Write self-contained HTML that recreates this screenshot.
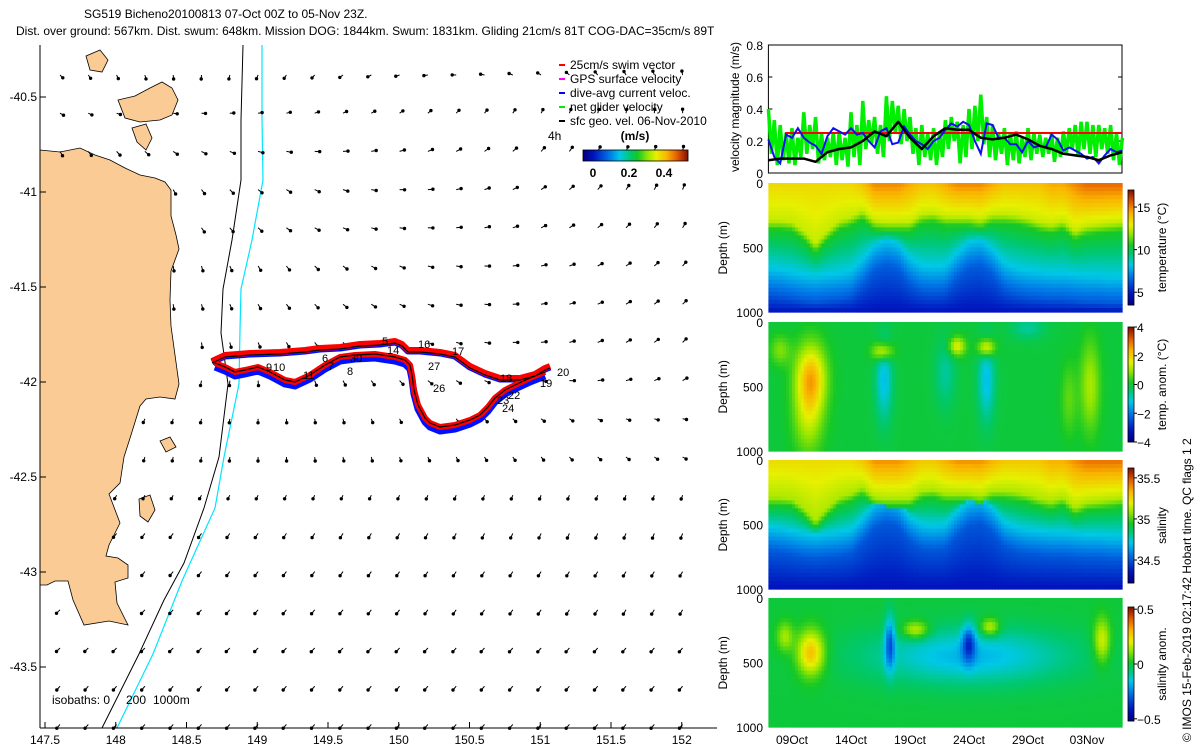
<!DOCTYPE html>
<html><head><meta charset="utf-8">
<style>
html,body{margin:0;padding:0;background:#fff;}
svg{display:block;font-family:"Liberation Sans",sans-serif;}
text{fill:#000;}
</style></head>
<body>
<svg id="root" width="1200" height="750" viewBox="0 0 1200 750" xmlns="http://www.w3.org/2000/svg">
<g font-size="12">
<text x="84" y="18">SG519 Bicheno20100813 07-Oct 00Z to 05-Nov 23Z.</text>
<text x="16" y="35">Dist. over ground: 567km. Dist. swum: 648km. Mission DOG: 1844km. Swum: 1831km. Gliding 21cm/s 81T COG-DAC=35cm/s 89T</text>
</g>
<g id="map"></g>
<g id="vel"></g>
<g id="heat"></g>
<text transform="translate(1191,742) rotate(-90)" font-size="12">© IMOS 15-Feb-2019 02:17:42 Hobart time. QC flags 1  2</text>
</svg>
<script>
// ---------------- DATA ----------------
const blackDaily = [0.08,0.09,0.09,0.09,0.07,0.13,0.15,0.16,0.20,0.26,0.23,0.32,0.22,0.15,0.23,0.28,0.27,0.27,0.22,0.21,0.22,0.24,0.21,0.17,0.15,0.12,0.11,0.10,0.08,0.11,0.13];
const blueHalfDay = [0.21,0.10,0.06,0.24,0.22,0.28,0.22,0.19,0.17,0.12,0.23,0.28,0.26,0.24,0.28,0.24,0.25,0.20,0.16,0.26,0.28,0.18,0.19,0.29,0.24,0.20,0.18,0.15,0.20,0.22,0.27,0.31,0.29,0.32,0.30,0.20,0.12,0.31,0.30,0.22,0.22,0.18,0.18,0.13,0.20,0.16,0.17,0.16,0.24,0.21,0.14,0.16,0.14,0.12,0.09,0.10,0.06,0.11,0.15,0.13,0.14];
const greenQuarterDay = [0.40,0.12,0.33,0.05,0.30,0.08,0.25,0.06,0.28,0.05,0.22,0.10,0.38,0.12,0.30,0.15,0.35,0.06,0.25,0.08,0.22,0.10,0.25,0.05,0.26,0.08,0.22,0.04,0.38,0.10,0.30,0.05,0.45,0.15,0.33,0.18,0.35,0.12,0.30,0.10,0.48,0.20,0.45,0.25,0.42,0.18,0.40,0.20,0.35,0.12,0.28,0.05,0.30,0.10,0.25,0.08,0.28,0.05,0.25,0.10,0.33,0.15,0.35,0.20,0.32,0.06,0.30,0.10,0.40,0.15,0.42,0.20,0.49,0.18,0.35,0.10,0.30,0.08,0.25,0.12,0.28,0.05,0.25,0.08,0.26,0.06,0.22,0.10,0.28,0.08,0.25,0.12,0.24,0.10,0.22,0.12,0.25,0.07,0.22,0.10,0.26,0.12,0.28,0.15,0.30,0.10,0.32,0.15,0.32,0.12,0.30,0.10,0.30,0.15,0.28,0.12,0.30,0.08,0.25,0.05,0.22];
const swimSpeed = 0.25;
const velTicks = [0,0.2,0.4,0.6,0.8];
const timeTickLabels = ["09Oct","14Oct","19Oct","24Oct","29Oct","03Nov"];
const timeTickDays = [2,7,12,17,22,27];
const mixedDepth = [290,290,300,370,470,370,290,260,210,290,300,300,300,240,230,260,260,260,280,240,240,250,270,300,320,290,370,330,320,310,300];
const coldDepth = [660,670,690,710,720,710,700,680,590,480,440,470,580,640,650,640,540,460,440,510,620,660,680,690,700,700,710,720,720,730,730];
const surfTemp = [13.5,13.5,13.5,13.5,13.5,13.5,13.5,13.5,14,15,15,15,14.5,14,14,14.5,15,15,15,14.5,14,14,14,14,14.5,14.5,15,15.5,15.5,15.5,15.5];
const tempAnomBlobs = [[3.6,430,0.9,180,2.3],[3.4,750,0.9,200,1.1],[1,220,0.6,80,0.8],[9.7,230,0.6,50,1.8],[16,190,0.5,50,1.6],[18.5,200,0.5,50,2.0],[9.8,450,0.5,220,-1.3],[18.5,450,0.5,220,-1.3],[15,400,0.6,180,-0.7],[22,50,1.0,60,-0.7],[27.3,500,0.6,250,1.1],[25.5,600,0.5,200,0.6]];
const salAnomBlobs = [[3.6,425,0.8,120,0.30],[1.4,300,0.5,80,0.14],[17,450,6,150,-0.18],[10.3,350,0.3,150,-0.25],[17,350,0.4,100,-0.25],[12.5,250,0.8,50,0.2],[18.8,230,0.6,50,0.2],[28.3,330,0.5,120,0.2]];
const lonTicks = [147.5,148,148.5,149,149.5,150,150.5,151,151.5,152];
const latTicks = [-40.5,-41,-41.5,-42,-42.5,-43,-43.5];
const rowBearW = [135,120,150,180,180,200,200,210,230,220,210,210,220,220,225,225,220,220];
const rowBearE = [350,0,10,20,30,40,45,45,60,100,120,200,200,210,210,220,220,220];
const rowLen = [4,4,5,5,5,5,5,5,5,4,4,4,5,5,5,5,5,5];
const trackLabels = [["16",418,348],["17",452,355],["27",428,370],["26",433,392],["18",500,382],["20",557,376],["22",508,399],["24",502,412],["23",497,404],["19",540,387],["11",303,379],["10",273,371],["9",266,371],["7",328,370],["8",347,375],["30",350,362],["6",322,362],["5",382,345],["14",387,354]];

// ---------------- HELPERS ----------------
const NS="http://www.w3.org/2000/svg";
function mk(tag, parent, attrs){const e=document.createElementNS(NS,tag);for(const k in attrs)e.setAttribute(k,attrs[k]);parent.appendChild(e);return e;}
function txt(parent,x,y,s,size,anchor){const t=mk('text',parent,{x:x,y:y,'font-size':size||12,'text-anchor':anchor||'start'});t.textContent=s;return t;}
const stops=[[0,[0,0,130]],[0.1,[0,20,190]],[0.25,[0,120,230]],[0.35,[0,200,230]],[0.45,[0,200,110]],[0.52,[20,200,40]],[0.62,[150,230,0]],[0.7,[230,240,0]],[0.8,[250,180,0]],[0.9,[230,90,0]],[1,[130,20,0]]];
function cmap(f){f=Math.max(0,Math.min(1,f));for(let i=1;i<stops.length;i++){if(f<=stops[i][0]){const a=stops[i-1],b=stops[i];const t=(f-a[0])/(b[0]-a[0]);return 'rgb('+a[1].map((v,k)=>Math.round(v+(b[1][k]-v)*t)).join(',')+')';}}return 'rgb(130,20,0)';}
function interpDaily(arr,d){const i=Math.min(arr.length-2,Math.floor(d));const t=d-i;return arr[i]*(1-t)+arr[i+1]*t;}
function pw(nodes,z){for(let i=1;i<nodes.length;i++){if(z<=nodes[i][0]){const a=nodes[i-1],b=nodes[i];const t=(z-a[0])/Math.max(1,(b[0]-a[0]));return a[1]+(b[1]-a[1])*t;}}return nodes[nodes.length-1][1];}

// ---------------- MAP ----------------
const map=document.getElementById('map');
const mx=lon=>45+(lon-147.5)*141.5;
const my=lat=>97+(-40.5-lat)*190;
const land=[
"M40,150 L60,152 L80,148 L95,155 L110,160 L125,168 L140,175 L155,178 L165,182 L171,190 L171,216 L176,235 L179,249 L171,271 L170,300 L171,326 L175,355 L179,384 L175,399 L160,397 L146,399 L140,406 L131,435 L124,457 L120,483 L109,494 L120,523 L109,545 L106,556 L118,558 L128,565 L128,578 L115,582 L117,603 L128,625 L109,621 L84,625 L73,600 L68,581 L55,581 L47,585 L40,585 Z",
"M118,100 L135,96 L150,88 L162,82 L172,88 L178,100 L172,115 L160,120 L140,122 L125,118 Z",
"M132,128 L146,124 L152,138 L146,150 L137,142 Z",
"M86,56 L100,50 L108,60 L102,72 L90,70 Z",
"M139,499 L150,495 L155,510 L148,522 L140,516 Z",
"M160,441 L170,437 L176,447 L166,452 Z"];
land.forEach((d,i)=>{const p=mk('path',map,{d:d,fill:'#fbcb96',stroke:'#000','stroke-width':0.8});

});
const iso1=mk('polyline',map,{points:"243,45 241,120 241,180 232,240 223,289 221,333 228,384 219,457 204,508 184,563 164,600 139,654 102,728",fill:'none',stroke:'#000','stroke-width':1});


const iso2=mk('polyline',map,{points:"262,45 262,120 263,180 252,240 241,289 240,330 239,384 224,457 215,508 182,581 153,654 117,728",fill:'none',stroke:'#00e5ff','stroke-width':1.2});


const landPaths=land.map(d=>new Path2D(d));
const cctx=document.createElement('canvas').getContext('2d');
const arrows=mk('g',map,{});


for(let r=0;r<rowBearW.length;r++){
  const y=75+38.2*r;
  for(let c=0;c<23;c++){
    const x=60+28.3*c;
    if(landPaths.some(p=>cctx.isPointInPath(p,x,y)))continue;
    const f=c/22;
    const b=(rowBearW[r]*(1-f)+rowBearE[r]*f)*Math.PI/180;
    const L=rowLen[r];
    const x2=x+Math.sin(b)*L,y2=y-Math.cos(b)*L;
    const a=mk('line',arrows,{x1:x.toFixed(1),y1:y.toFixed(1),x2:x2.toFixed(1),y2:y2.toFixed(1),stroke:'#000','stroke-width':1});
    
    
    mk('circle',arrows,{cx:x2.toFixed(1),cy:y2.toFixed(1),r:1.7,fill:'#000'});
  }
}
const upper="212,363 225,357 250,355 280,354 305,352 320,350 340,349 360,346 380,345 395,343 402,346 408,352 420,352 440,354 455,357 470,368 485,375 500,380 520,380 535,376 545,370 550,368";
const lower="545,372 530,378 515,385 505,390 495,398 488,407 480,415 470,420 455,425 440,427 430,423 425,418 418,405 414,390 412,375 410,365 405,360 395,357 375,354 355,355 340,357 325,365 310,375 295,382 285,380 270,372 258,367 245,370 235,372 225,367 215,363";
const trk=mk('g',map,{});


[[upper,-3],[lower,2]].forEach(([pts,dy])=>{
  mk('polyline',trk,{points:pts,fill:'none',stroke:'#0010ff','stroke-width':7,transform:'translate(0,'+(dy+2)+')','stroke-linejoin':'round'});
});
[[upper,-2],[lower,0]].forEach(([pts,dy])=>{
  mk('polyline',trk,{points:pts,fill:'none',stroke:'#ff0000','stroke-width':6,transform:'translate(0,'+dy+')','stroke-linejoin':'round'});
});
[upper,lower].forEach(pts=>mk('polyline',trk,{points:pts,fill:'none',stroke:'#000','stroke-width':1.2}));
trackLabels.forEach(([s,x,y])=>{const t=txt(map,x,y,s,11);

});
mk('line',map,{x1:40,y1:45,x2:40,y2:728,stroke:'#000','stroke-width':1});
mk('line',map,{x1:40,y1:728,x2:717,y2:728,stroke:'#000','stroke-width':1});
lonTicks.forEach(v=>{const x=mx(v);mk('line',map,{x1:x,y1:728,x2:x,y2:722,stroke:'#000'});
const t=txt(map,x,744,String(v),12,'middle');

});
latTicks.forEach(v=>{const y=my(v);mk('line',map,{x1:40,y1:y,x2:46,y2:y,stroke:'#000'});
const t=txt(map,37,y+4,String(v),12,'end');

});
const isoG=mk('g',map,{});


txt(isoG,52,704,'isobaths: 0',12);
txt(isoG,126,704,'200',12);
txt(isoG,153,704,'1000m',12);
const lg=mk('g',map,{});


[['25cm/s swim vector','#ff0000'],['GPS surface velocity','#ff00ff'],['dive-avg current veloc.','#0000ff'],['net glider velocity','#00ee00'],['sfc geo. vel. 06-Nov-2010','#000']].forEach(([s,c],i)=>{
  const y=65+14*i;
  mk('line',lg,{x1:559,y1:y,x2:565,y2:y,stroke:c,'stroke-width':2});
  const t=txt(lg,570,y+4,s,12);
  
  
});
txt(lg,548,140,'4h',12);
const ms=txt(lg,635,140,'(m/s)',12,'middle');ms.setAttribute('font-weight','bold');
for(let i=0;i<105;i++)mk('rect',lg,{x:583+i,y:150,width:1.2,height:11,fill:cmap(i/104)});
mk('rect',lg,{x:583,y:150,width:105,height:11,fill:'none',stroke:'#000','stroke-width':0.8});
[['0',593],['0.2',629],['0.4',664]].forEach(([s,x])=>{const t=txt(lg,x,177,s,12,'middle');t.setAttribute('font-weight','bold');});

// ---------------- VELOCITY PANEL ----------------
const vel=document.getElementById('vel');
const X0=768.4,PXD=11.8,VX1=1122;
const tx=d=>X0+d*PXD;
const vy=v=>173-v*160;
mk('rect',vel,{x:X0,y:45,width:VX1-X0,height:128,fill:'#fff',stroke:'#000','stroke-width':1});
velTicks.forEach(v=>{const y=vy(v);mk('line',vel,{x1:X0,y1:y,x2:X0+4,y2:y,stroke:'#000'});mk('line',vel,{x1:VX1,y1:y,x2:VX1-4,y2:y,stroke:'#000'});
const t=txt(vel,763,y+5,String(v),12,'end');});
const vl=mk('text',vel,{transform:'translate(739,172) rotate(-90)','font-size':12});vl.textContent='velocity magnitude (m/s)';


const gpl=mk('polyline',vel,{points:greenQuarterDay.map((v,i)=>tx(i*0.25).toFixed(1)+','+vy(v).toFixed(1)).join(' '),fill:'none',stroke:'#00ee00','stroke-width':3.5});


const rl=mk('line',vel,{x1:tx(1.4),y1:vy(swimSpeed),x2:VX1,y2:vy(swimSpeed),stroke:'#ff0000','stroke-width':2});


const bpl=mk('polyline',vel,{points:blueHalfDay.map((v,i)=>tx(i*0.5).toFixed(1)+','+vy(v).toFixed(1)).join(' '),fill:'none',stroke:'#1010ee','stroke-width':2});


const kpl=mk('polyline',vel,{points:blackDaily.map((v,i)=>tx(i).toFixed(1)+','+vy(v).toFixed(1)).join(' '),fill:'none',stroke:'#000','stroke-width':2.5,'stroke-linejoin':'round'});



// ---------------- SECTIONS ----------------
const heat=document.getElementById('heat');
const panels=[
 {top:183,bot:312,name:'temperature-section',lab:'temperature (°C)',vmin:3.5,vmax:17,cbT:190,cbB:305,ticks:[[15,'15'],[10,'10'],[5,'5']],
  val:(d,z)=>{const m=interpDaily(mixedDepth,d),c=interpDaily(coldDepth,d),s=interpDaily(surfTemp,d);return pw([[0,s],[m,12.5],[m+70,10.6],[c,8.2],[c+200,6.3],[1000,4.8]],z);}},
 {top:322,bot:451,name:'temp-anomaly-section',lab:'temp. anom. (°C)',vmin:-4,vmax:4,cbT:327,cbB:442,ticks:[[4,'4'],[2,'2'],[0,'0'],[-2,'−2'],[-4,'−4']],
  val:(d,z)=>{let v=0;tempAnomBlobs.forEach(([bd,bz,sd,sz,a])=>{v+=a*Math.exp(-((d-bd)**2)/(2*sd*sd)-((z-bz)**2)/(2*sz*sz));});return v;}},
 {top:460,bot:589,name:'salinity-section',lab:'salinity',vmin:34.22,vmax:35.62,cbT:468,cbB:583,ticks:[[35.5,'35.5'],[35,'35'],[34.5,'34.5']],
  val:(d,z)=>{const m=interpDaily(mixedDepth,d),c=interpDaily(coldDepth,d),s=35.3+(interpDaily(surfTemp,d)-14)*0.1;return pw([[0,s],[m,35.12],[m+60,34.95],[c-150,34.72],[c+50,34.5],[1000,34.35]],z);}},
 {top:598,bot:727,name:'salinity-anomaly-section',lab:'salinity anom.',vmin:-0.52,vmax:0.52,cbT:607,cbB:721,ticks:[[0.5,'0.5'],[0,'0'],[-0.5,'−0.5']],
  val:(d,z)=>{let v=0;salAnomBlobs.forEach(([bd,bz,sd,sz,a])=>{v+=a*Math.exp(-((d-bd)**2)/(2*sd*sd)-((z-bz)**2)/(2*sz*sz));});return v;}}
];
const NC=120,NR=32;
panels.forEach(P=>{
  const g=mk('g',heat,{});
  
  
  const h=P.bot-P.top,w=VX1-X0;
  for(let c=0;c<NC;c++){for(let r=0;r<NR;r++){
    const d=(c+0.5)/NC*30,z=(r+0.5)/NR*1000;
    const f=(P.val(d,z)-P.vmin)/(P.vmax-P.vmin);
    mk('rect',g,{x:(X0+c*w/NC).toFixed(1),y:(P.top+r*h/NR).toFixed(1),width:(w/NC+0.6).toFixed(2),height:(h/NR+0.6).toFixed(2),fill:cmap(f)});
  }}
  [[0,'0'],[500,'500'],[1000,'1000']].forEach(([z,s])=>{const y=P.top+z/1000*h;const t=txt(g,763,y+5,s,12,'end');});
  const dl=mk('text',g,{transform:'translate(727,'+(P.top+h/2+27)+') rotate(-90)','font-size':12});dl.textContent='Depth (m)';
  
  
  const cb=mk('g',g,{});
  
  
  const ch=P.cbB-P.cbT;
  for(let i=0;i<ch;i++)mk('rect',cb,{x:1128,y:P.cbB-i-1,width:6,height:1.3,fill:cmap(i/(ch-1))});
  mk('rect',cb,{x:1128,y:P.cbT,width:6,height:ch,fill:'none',stroke:'#000','stroke-width':0.8});
  P.ticks.forEach(([v,s])=>{const y=P.cbB-(v-P.vmin)/(P.vmax-P.vmin)*ch;mk('line',cb,{x1:1134,y1:y,x2:1137,y2:y,stroke:'#000'});txt(cb,1137,y+5,s,12);});
  const lt=mk('text',cb,{transform:'translate(1166,'+((P.cbT+P.cbB)/2)+') rotate(-90)','font-size':12,'text-anchor':'middle'});lt.textContent=P.lab;
  
  
});
timeTickLabels.forEach((s,i)=>{const x=tx(timeTickDays[i]);const t=txt(heat,x,744,s,12,'middle');

});
</script>
</body></html>
